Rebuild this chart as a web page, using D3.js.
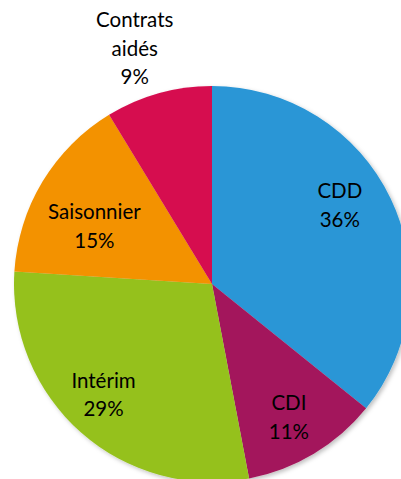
<!DOCTYPE html>
<html>
<head>
<meta charset="utf-8">
<script src="https://cdn.jsdelivr.net/npm/d3@7"></script>
<style>
  body { margin: 0; background: #fff; }
  text { font-family: Lato, "Open Sans", sans-serif; fill: #000; }
</style>
</head>
<body>
<div id="chart"></div>
<script>
var categories = ["CDD", "CDI", "Intérim", "Saisonnier", "Contrats aidés"];
var values = [35.8, 11.2, 29.0, 15.3, 8.7];
var labelLines = [["CDD"], ["CDI"], ["Intérim"], ["Saisonnier"], ["Contrats", "aidés"]];
var colors = ["#2A96D6", "#A3195B", "#95C11F", "#F39200", "#D60D50"];

var width = 401,
    height = 479,
    radius = 198;

var svg = d3.select("#chart")
    .append("svg")
    .attr("width", width)
    .attr("height", height);

var defs = svg.append("defs");
var filter = defs.append("filter").attr("id", "shadow")
    .attr("x", "-10%").attr("y", "-10%").attr("width", "120%").attr("height", "120%");
filter.append("feDropShadow")
    .attr("dx", 2).attr("dy", 2).attr("stdDeviation", 2)
    .attr("flood-color", "#000").attr("flood-opacity", 0.25);

var g = svg.append("g")
    .attr("transform", "translate(212,284)");

var pie = d3.pie().sort(null).value(function(d) { return d; });
var arcs = pie(values);

var arc = d3.arc().innerRadius(0).outerRadius(radius);

g.append("g")
    .attr("filter", "url(#shadow)")
    .selectAll("path")
    .data(arcs)
    .enter().append("path")
    .attr("d", arc)
    .attr("fill", function(d, i) { return colors[i]; });

// label radius per slice (Excel puts some inside, last one outside)
var labelR = [150, 154, 155, 131, 248];
var labelShift = [-6, 1, 3, -5, -2.5]; // degrees

var lineH = 28.5;
var labels = g.selectAll("g.lab")
    .data(arcs)
    .enter().append("g")
    .attr("class", "lab")
    .attr("transform", function(d, i) {
      var a = (d.startAngle + d.endAngle) / 2 + labelShift[i] * Math.PI / 180;
      return "translate(" + (Math.sin(a) * labelR[i]) + "," + (-Math.cos(a) * labelR[i]) + ")";
    });

labels.each(function(d, i) {
  var lines = labelLines[i].concat([Math.round(values[i]) + "%"]);
  var t = d3.select(this).append("text")
      .attr("text-anchor", "middle")
      .style("font-size", "20.5px");
  lines.forEach(function(l, j) {
    t.append("tspan")
      .attr("x", 0)
      .attr("y", (j - (lines.length - 1) / 2) * lineH)
      .attr("dy", "0.35em")
      .text(l);
  });
});
</script>
</body>
</html>
